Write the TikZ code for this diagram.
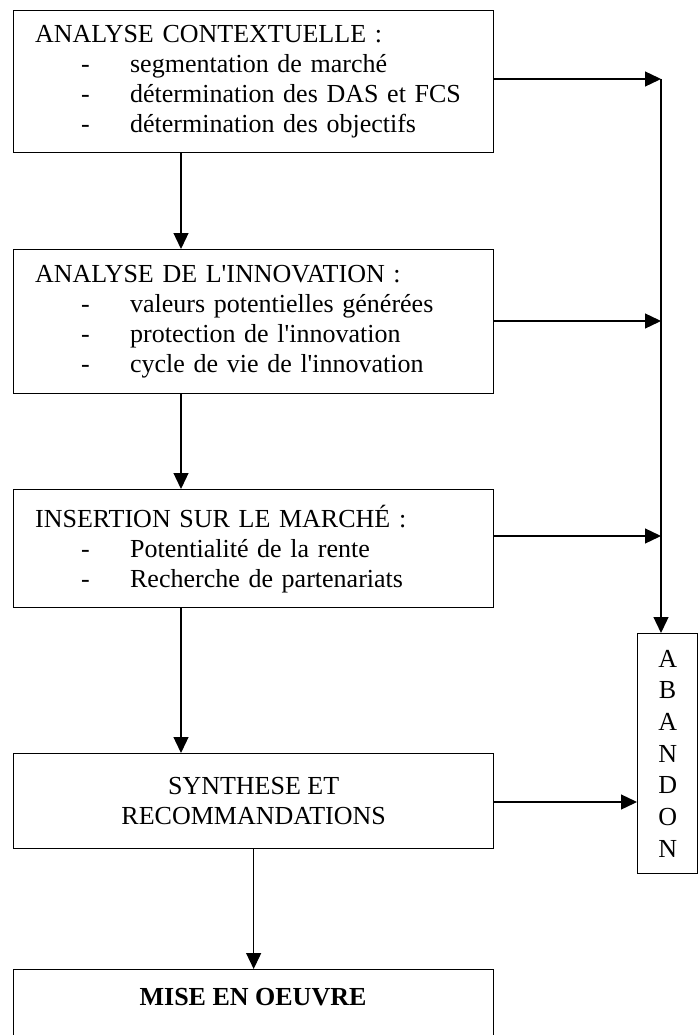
\documentclass[tikz,border=0pt]{standalone}
\usepackage{fontspec}
\setmainfont{Liberation Serif}
\usetikzlibrary{arrows.meta}
\newcommand\itm[1]{\makebox[95pt][l]{\hspace{46pt}-}#1}
\newcommand\q{\textquotesingle}
\begin{document}
\begin{tikzpicture}[x=1pt,y=-1pt,
  lw/.style={line width=1.3pt},
  box/.style={draw, lw, minimum width=480pt, anchor=north west, inner xsep=0pt, inner ysep=0pt, font=\fontsize{26}{30}\selectfont},
  lbox/.style={box, align=left, text width=437pt},
  arr/.style={lw, -{Triangle[length=16pt,width=15pt]}}]
\useasboundingbox (0,0) rectangle (698,1035);
\clip (0,0) rectangle (698,1035);

\node[lbox, minimum height=142pt] (b1) at (13,10) {ANALYSE CONTEXTUELLE :\\ \itm{segmentation de marché}\\ \itm{détermination des DAS et FCS}\\ \itm{détermination des objectifs}};
\node[lbox, minimum height=144pt] (b2) at (13,249) {ANALYSE DE L\q INNOVATION :\\ \itm{valeurs potentielles générées}\\ \itm{protection de l\q innovation}\\ \itm{cycle de vie de l\q innovation}};
\node[lbox, minimum height=118pt] (b3) at (13,489) {INSERTION SUR LE MARCHÉ :\\ \itm{Potentialité de la rente}\\ \itm{Recherche de partenariats}};
\node[box, align=center, minimum height=95pt] (b4) at (13,753) {SYNTHESE ET\\RECOMMANDATIONS};
\node[box, minimum height=110pt] (b5) at (13,969) {};
\node[font=\fontsize{26}{30}\selectfont\bfseries] (t5) at (253,997) {MISE EN OEUVRE};
\node[draw, lw, anchor=north west, minimum width=60pt, minimum height=240pt, inner sep=0pt, align=center, font=\fontsize{26}{31.7}\selectfont] (ab) at (637,633) {A\\B\\A\\N\\D\\O\\N};

\coordinate (x1) at (181,0);
\coordinate (v1) at (661,79);
\coordinate (v2) at (661,321);
\coordinate (v3) at (661,536);

\draw[arr] (b1.south -| x1) -- (b2.north -| x1);
\draw[arr] (b2.south -| x1) -- (b3.north -| x1);
\draw[arr] (b3.south -| x1) -- (b4.north -| x1);
\draw[arr] (b4.south) -- (b5.north);

\draw[arr] (b1.east |- v1) -- (v1);
\draw[arr] (b2.east |- v2) -- (v2);
\draw[arr] (b3.east |- v3) -- (v3);
\draw[arr] (v1) -- (ab.north -| v1);
\draw[arr] (b4.east |- 0,802) -- (ab.west |- 0,802);
\end{tikzpicture}
\end{document}
